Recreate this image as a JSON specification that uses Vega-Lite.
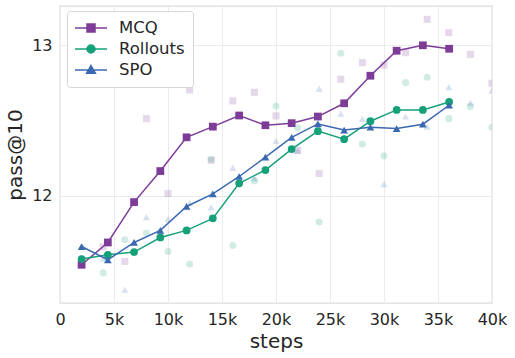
{
  "$schema": "https://vega.github.io/schema/vega-lite/v6.json",
  "width": 432,
  "height": 297,
  "autosize": {"type": "none"},
  "padding": {"left": 60, "top": 6, "right": 23, "bottom": 55},
  "background": "white",
  "config": {
    "font": "DejaVu Sans",
    "view": {"stroke": "#dcdcdc", "strokeWidth": 1.3},
    "axis": {"grid": true, "gridColor": "#ebebeb", "gridWidth": 1, "domain": false, "ticks": false, "labelFontSize": 16, "labelColor": "#262626", "titleFontSize": 20, "titleFontWeight": "normal", "titleColor": "#262626", "labelPadding": 8, "labelFlush": false}
  },
  "datasets": {
    "main": [
      {"series": "MCQ", "step": 2000, "value": 11.541},
      {"series": "MCQ", "step": 4430, "value": 11.689},
      {"series": "MCQ", "step": 6860, "value": 11.957},
      {"series": "MCQ", "step": 9290, "value": 12.163},
      {"series": "MCQ", "step": 11720, "value": 12.387},
      {"series": "MCQ", "step": 14150, "value": 12.458},
      {"series": "MCQ", "step": 16590, "value": 12.532},
      {"series": "MCQ", "step": 19020, "value": 12.467},
      {"series": "MCQ", "step": 21450, "value": 12.481},
      {"series": "MCQ", "step": 23880, "value": 12.525},
      {"series": "MCQ", "step": 26310, "value": 12.613},
      {"series": "MCQ", "step": 28740, "value": 12.796},
      {"series": "MCQ", "step": 31170, "value": 12.962},
      {"series": "MCQ", "step": 33600, "value": 12.998},
      {"series": "MCQ", "step": 36030, "value": 12.975},
      {"series": "Rollouts", "step": 2000, "value": 11.579},
      {"series": "Rollouts", "step": 4430, "value": 11.607},
      {"series": "Rollouts", "step": 6860, "value": 11.625},
      {"series": "Rollouts", "step": 9290, "value": 11.722},
      {"series": "Rollouts", "step": 11720, "value": 11.769},
      {"series": "Rollouts", "step": 14150, "value": 11.849},
      {"series": "Rollouts", "step": 16590, "value": 12.082},
      {"series": "Rollouts", "step": 19020, "value": 12.170},
      {"series": "Rollouts", "step": 21450, "value": 12.309},
      {"series": "Rollouts", "step": 23880, "value": 12.428},
      {"series": "Rollouts", "step": 26310, "value": 12.375},
      {"series": "Rollouts", "step": 28740, "value": 12.494},
      {"series": "Rollouts", "step": 31170, "value": 12.569},
      {"series": "Rollouts", "step": 33600, "value": 12.569},
      {"series": "Rollouts", "step": 36030, "value": 12.622},
      {"series": "SPO", "step": 2000, "value": 11.662},
      {"series": "SPO", "step": 4430, "value": 11.574},
      {"series": "SPO", "step": 6860, "value": 11.689},
      {"series": "SPO", "step": 9290, "value": 11.769},
      {"series": "SPO", "step": 11720, "value": 11.928},
      {"series": "SPO", "step": 14150, "value": 12.012},
      {"series": "SPO", "step": 16590, "value": 12.127},
      {"series": "SPO", "step": 19020, "value": 12.255},
      {"series": "SPO", "step": 21450, "value": 12.387},
      {"series": "SPO", "step": 23880, "value": 12.476},
      {"series": "SPO", "step": 26310, "value": 12.435},
      {"series": "SPO", "step": 28740, "value": 12.454},
      {"series": "SPO", "step": 31170, "value": 12.445},
      {"series": "SPO", "step": 33600, "value": 12.474},
      {"series": "SPO", "step": 36030, "value": 12.600}
    ],
    "raw": [
      {"series": "MCQ", "step": 2000, "value": 11.541},
      {"series": "MCQ", "step": 4000, "value": 11.660},
      {"series": "MCQ", "step": 6000, "value": 11.563},
      {"series": "MCQ", "step": 8000, "value": 12.511},
      {"series": "MCQ", "step": 10000, "value": 12.014},
      {"series": "MCQ", "step": 12000, "value": 12.702},
      {"series": "MCQ", "step": 14000, "value": 12.234},
      {"series": "MCQ", "step": 16000, "value": 12.629},
      {"series": "MCQ", "step": 18000, "value": 12.686},
      {"series": "MCQ", "step": 20000, "value": 12.529},
      {"series": "MCQ", "step": 22000, "value": 12.300},
      {"series": "MCQ", "step": 24000, "value": 12.147},
      {"series": "MCQ", "step": 26000, "value": 12.773},
      {"series": "MCQ", "step": 28000, "value": 12.883},
      {"series": "MCQ", "step": 30000, "value": 12.867},
      {"series": "MCQ", "step": 32000, "value": 12.949},
      {"series": "MCQ", "step": 34000, "value": 13.170},
      {"series": "MCQ", "step": 36000, "value": 13.082},
      {"series": "MCQ", "step": 38000, "value": 12.938},
      {"series": "MCQ", "step": 40000, "value": 12.746},
      {"series": "Rollouts", "step": 2000, "value": 11.579},
      {"series": "Rollouts", "step": 4000, "value": 11.487},
      {"series": "Rollouts", "step": 6000, "value": 11.707},
      {"series": "Rollouts", "step": 8000, "value": 11.751},
      {"series": "Rollouts", "step": 10000, "value": 11.629},
      {"series": "Rollouts", "step": 12000, "value": 11.546},
      {"series": "Rollouts", "step": 14000, "value": 12.241},
      {"series": "Rollouts", "step": 16000, "value": 11.669},
      {"series": "Rollouts", "step": 18000, "value": 12.098},
      {"series": "Rollouts", "step": 20000, "value": 12.595},
      {"series": "Rollouts", "step": 22000, "value": 12.450},
      {"series": "Rollouts", "step": 24000, "value": 11.824},
      {"series": "Rollouts", "step": 26000, "value": 12.945},
      {"series": "Rollouts", "step": 28000, "value": 12.343},
      {"series": "Rollouts", "step": 30000, "value": 12.264},
      {"series": "Rollouts", "step": 32000, "value": 12.750},
      {"series": "Rollouts", "step": 34000, "value": 12.786},
      {"series": "Rollouts", "step": 36000, "value": 12.511},
      {"series": "Rollouts", "step": 38000, "value": 12.591},
      {"series": "Rollouts", "step": 40000, "value": 12.454},
      {"series": "SPO", "step": 2000, "value": 11.662},
      {"series": "SPO", "step": 4000, "value": 11.583},
      {"series": "SPO", "step": 6000, "value": 11.375},
      {"series": "SPO", "step": 8000, "value": 11.857},
      {"series": "SPO", "step": 10000, "value": 11.844},
      {"series": "SPO", "step": 12000, "value": 11.950},
      {"series": "SPO", "step": 14000, "value": 11.921},
      {"series": "SPO", "step": 16000, "value": 12.184},
      {"series": "SPO", "step": 18000, "value": 12.115},
      {"series": "SPO", "step": 20000, "value": 12.363},
      {"series": "SPO", "step": 22000, "value": 12.299},
      {"series": "SPO", "step": 24000, "value": 12.710},
      {"series": "SPO", "step": 26000, "value": 12.544},
      {"series": "SPO", "step": 28000, "value": 12.509},
      {"series": "SPO", "step": 30000, "value": 12.076},
      {"series": "SPO", "step": 32000, "value": 12.525},
      {"series": "SPO", "step": 34000, "value": 12.458},
      {"series": "SPO", "step": 36000, "value": 12.720},
      {"series": "SPO", "step": 38000, "value": 12.617},
      {"series": "SPO", "step": 40000, "value": 12.697}
    ]
  },
  "encoding": {
    "x": {"field": "step", "type": "quantitative", "title": "steps", "scale": {"domain": [0, 40000], "nice": false}, "axis": {"values": [0, 5000, 10000, 15000, 20000, 25000, 30000, 35000, 40000], "labelExpr": "datum.value == 0 ? '0' : (datum.value / 1000) + 'k'", "titlePadding": 4}},
    "y": {"field": "value", "type": "quantitative", "title": "pass@10", "scale": {"domain": [11.287, 13.259], "nice": false, "zero": false}, "axis": {"values": [12, 13], "titlePadding": 6}},
    "color": {
      "field": "series", "type": "nominal",
      "scale": {"domain": ["MCQ", "Rollouts", "SPO"], "range": ["#7d3c98", "#16a07a", "#3b69b1"]},
      "legend": {
        "title": null, "orient": "none", "legendX": 7, "legendY": 5,
        "fillColor": "white", "strokeColor": "#d6d6d6", "cornerRadius": 3, "padding": 8,
        "labelFontSize": 16.5, "labelColor": "#262626", "symbolSize": 256, "rowPadding": 3,
        "labelOffset": 19, "symbolOffset": 7, "symbolStrokeWidth": 1.5,
        "encode": {
          "symbols": {
            "update": {
              "shape": {"signal": "datum.value == 'MCQ' ? 'M-2,0H2M-0.5,-0.5H0.5V0.5H-0.5Z' : datum.value == 'Rollouts' ? 'M-2,0H2M0.5,0A0.5,0.5 0 1,1 -0.5,0A0.5,0.5 0 1,1 0.5,0Z' : 'M-2,0H2M0,-0.55L0.55,0.42H-0.55Z'"},
              "stroke": {"signal": "scale('color', datum.value)"},
              "strokeWidth": {"value": 1.5},
              "opacity": {"value": 1}
            }
          }
        }
      }
    }
  },
  "layer": [
    {
      "data": {"name": "raw"},
      "mark": {"type": "point", "filled": true, "opacity": 0.2, "size": 50, "clip": true},
      "encoding": {
        "shape": {"field": "series", "type": "nominal", "scale": {"domain": ["MCQ", "SPO", "Rollouts"], "range": ["square", "triangle-up", "circle"]}, "legend": null}
      }
    },
    {
      "data": {"name": "main"},
      "mark": {"type": "line", "strokeWidth": 1.5}
    },
    {
      "data": {"name": "main"},
      "mark": {"type": "point", "filled": true, "opacity": 1, "size": 60},
      "encoding": {
        "shape": {"field": "series", "type": "nominal", "scale": {"domain": ["MCQ", "SPO", "Rollouts"], "range": ["square", "triangle-up", "circle"]}, "legend": null}
      }
    }
  ]
}
